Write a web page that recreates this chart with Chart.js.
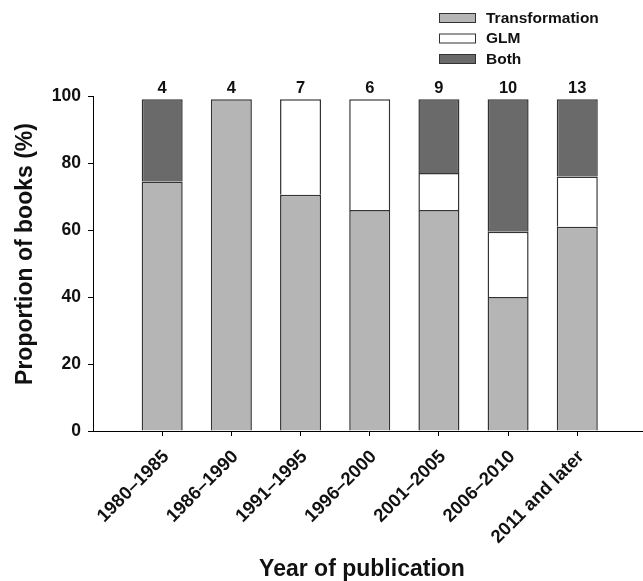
<!DOCTYPE html>
<html>
<head>
<meta charset="utf-8">
<script src="https://cdn.jsdelivr.net/npm/chart.js@4/dist/chart.umd.min.js"></script>
<style>
  html, body { margin: 0; padding: 0; background: #fff; }
  canvas { display: block; }
</style>
</head>
<body>
<canvas id="c" width="643" height="581"></canvas>
<script>
// Publication periods and the share (%) of books using each approach
const categories = ['1980–1985', '1986–1990', '1991–1995', '1996–2000', '2001–2005', '2006–2010', '2011 and later'];
const transformation = [74.5, 99, 70.5, 66, 66, 40, 61];
const glm = [0, 0, 28.5, 33, 11, 19.5, 15];
const both = [24.5, 0, 0, 0, 22, 39.5, 23];
// Number of books in each period (printed above each bar)
const bookCounts = [4, 4, 7, 6, 9, 10, 13];
const yTickValues = [0, 20, 40, 60, 80, 100];
const xTitle = 'Year of publication';
const yTitle = 'Proportion of books (%)';

const FONT = "'Liberation Sans', Arial, Helvetica, sans-serif";
const EDGE = '#333333';
const INK = '#111111';

const toPoints = arr => arr.map((v, i) => ({ x: i + 1, y: v }));

// Vertical legend in the top-right corner
const sideLegend = {
  id: 'sideLegend',
  afterDraw(chart) {
    const ctx = chart.ctx;
    ctx.save();
    ctx.font = `bold 15.5px ${FONT}`;
    ctx.textBaseline = 'middle';
    ctx.textAlign = 'left';
    chart.data.datasets.forEach((ds, i) => {
      const cy = 18 + i * 20.5;
      ctx.fillStyle = ds.backgroundColor;
      ctx.fillRect(439.5, cy - 4.5, 36, 9);
      ctx.strokeStyle = EDGE;
      ctx.lineWidth = 1;
      ctx.strokeRect(439.5, cy - 4.5, 36, 9);
      ctx.fillStyle = INK;
      ctx.fillText(ds.label, 486, cy + 0.5);
    });
    ctx.restore();
  }
};

// Axis titles
const axisTitles = {
  id: 'axisTitles',
  afterDraw(chart) {
    const ctx = chart.ctx;
    ctx.save();
    ctx.font = `bold 23px ${FONT}`;
    ctx.fillStyle = INK;
    ctx.textAlign = 'center';
    ctx.textBaseline = 'middle';
    ctx.fillText(xTitle, 362, 570);
    ctx.translate(26, 254);
    ctx.rotate(-Math.PI / 2);
    ctx.fillText(yTitle, 0, 0);
    ctx.restore();
  }
};

// Book counts above each stacked bar
const countLabels = {
  id: 'countLabels',
  afterDatasetsDraw(chart) {
    const ctx = chart.ctx;
    const xs = chart.scales.x, ys = chart.scales.y;
    ctx.save();
    ctx.font = `bold 16.5px ${FONT}`;
    ctx.fillStyle = INK;
    ctx.textAlign = 'center';
    ctx.textBaseline = 'bottom';
    bookCounts.forEach((n, i) => {
      const total = transformation[i] + glm[i] + both[i];
      ctx.fillText(String(n), xs.getPixelForValue(i + 1), ys.getPixelForValue(total) - 3);
    });
    ctx.restore();
  }
};

new Chart(document.getElementById('c'), {
  type: 'bar',
  data: {
    datasets: [
      { label: 'Transformation', data: toPoints(transformation), backgroundColor: '#b5b5b5' },
      { label: 'GLM', data: toPoints(glm), backgroundColor: '#ffffff' },
      { label: 'Both', data: toPoints(both), backgroundColor: '#6a6a6a' }
    ]
  },
  options: {
    responsive: false,
    animation: false,
    devicePixelRatio: 1,
    datasets: {
      bar: {
        borderColor: EDGE,
        borderWidth: 1.5,
        categoryPercentage: 1,
        barPercentage: 0.593
      }
    },
    layout: { padding: { top: 96, right: 0, bottom: 0, left: 0 } },
    plugins: {
      legend: { display: false },
      tooltip: { enabled: false }
    },
    scales: {
      x: {
        type: 'linear',
        stacked: true,
        offset: false,
        min: 0,
        max: 7.95,
        afterBuildTicks: s => { s.ticks = categories.map((_, i) => ({ value: i + 1 })); },
        afterFit: s => { s.height = 150; },
        border: { display: true, color: '#000', width: 1 },
        grid: { display: true, offset: false, drawOnChartArea: false, drawTicks: true, tickLength: 5, tickColor: '#000' },
        ticks: {
          autoSkip: false,
          maxRotation: 45,
          minRotation: 45,
          padding: 10,
          labelOffset: 4,
          color: INK,
          font: { family: FONT, size: 18.5, weight: 'bold' },
          callback: v => categories[v - 1]
        }
      },
      y: {
        stacked: true,
        min: 0,
        max: 100,
        afterBuildTicks: s => { s.ticks = yTickValues.map(v => ({ value: v })); },
        afterFit: s => { s.width = 93; },
        border: { display: true, color: '#000', width: 1 },
        grid: { display: true, drawOnChartArea: false, drawTicks: true, tickLength: 5, tickColor: '#000' },
        ticks: {
          padding: 7,
          color: INK,
          font: { family: FONT, size: 17.5, weight: 'bold' }
        }
      }
    }
  },
  plugins: [countLabels, sideLegend, axisTitles]
});
</script>
</body>
</html>
